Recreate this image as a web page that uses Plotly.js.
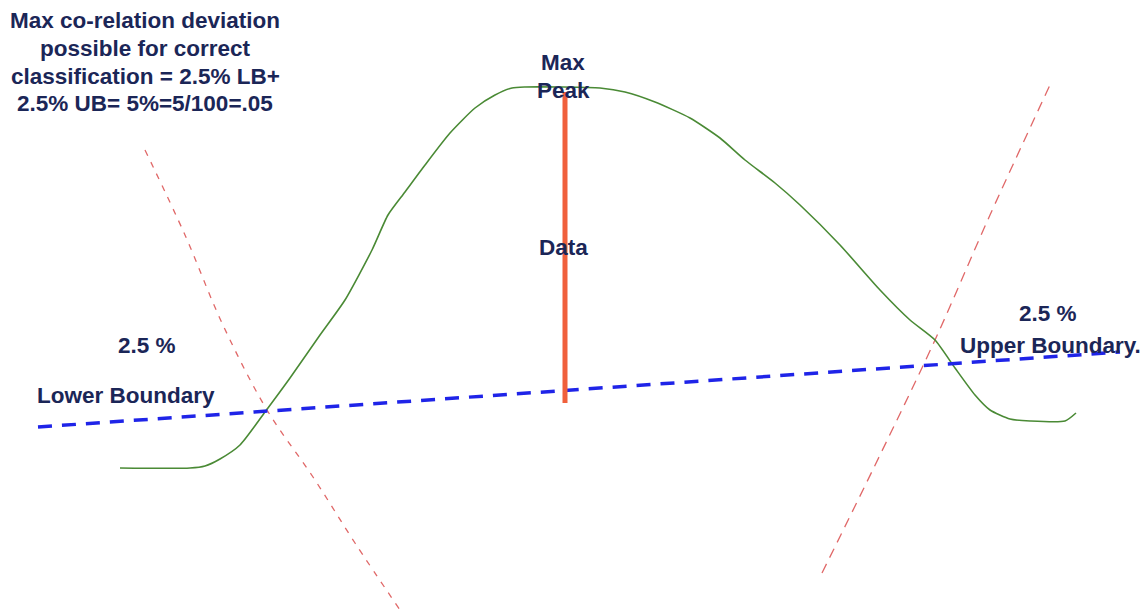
<!DOCTYPE html>
<html>
<head>
<meta charset="utf-8">
<script src="https://cdn.plot.ly/plotly-3.0.1.min.js"></script>
<style>
  html, body { margin: 0; padding: 0; background: #ffffff; }
  #chart { width: 1146px; height: 612px; }
</style>
</head>
<body>
<div id="chart"></div>
<script>
// Distribution curve (drawing units, y grows downward)
const curveX = [120, 190, 205, 220, 240, 265, 290, 320, 345, 372, 388, 405, 425, 450, 475, 495, 512, 525, 560, 600, 625, 655, 690, 720, 745, 775, 800, 840, 880, 910, 935, 955, 975, 990, 1010, 1030, 1065, 1076];
const curveY = [468, 468, 466, 459, 445, 412, 378, 335, 300, 250, 215, 192, 165, 133, 108, 95, 88, 87, 87, 88, 92, 102, 118, 138, 160, 183, 205, 245, 290, 320, 340, 368, 395, 410, 419, 421, 421, 413];

// Boundary line linking lower and upper cut points
const boundaryX = [38, 1120];
const boundaryY = [427, 352];

// Left cut line (slightly curved)
const leftCutX = [145, 185, 222, 267, 313, 355, 400];
const leftCutY = [150, 235, 323, 410, 477, 543, 610];

// Right cut line
const rightCutX = [822, 880, 935, 990, 1050];
const rightCutY = [573, 455, 340, 215, 85];

// Peak marker
const peakX = [565, 565];
const peakY = [92, 403];

// Labels
const noteLines = ["Max co-relation deviation", "possible for correct", "classification = 2.5% LB+", "2.5% UB= 5%=5/100=.05"];
const noteLineY = [20, 48, 76, 103];
const peakLabel = ["Max", "Peak"];
const peakLabelY = [62, 90];
const dataLabel = "Data";
const lowerPct = "2.5 %";
const lowerLabel = "Lower Boundary";
const upperPct = "2.5 %";
const upperLabel = "Upper Boundary.";

const navy = "#1b2657";
const font = { family: "Liberation Sans, Arial, sans-serif", size: 22.5, color: navy };

const traces = [
  { x: leftCutX, y: leftCutY, mode: "lines", line: { color: "#e06868", width: 1.3, dash: "6px,7px", shape: "spline" }, hoverinfo: "skip" },
  { x: rightCutX, y: rightCutY, mode: "lines", line: { color: "#e06868", width: 1.3, dash: "10px,7px", shape: "spline" }, hoverinfo: "skip" },
  { x: curveX, y: curveY, mode: "lines", line: { color: "#4a8a35", width: 1.6, shape: "spline", smoothing: 0.6 }, hoverinfo: "skip" },
  { x: boundaryX, y: boundaryY, mode: "lines", line: { color: "#1f24e8", width: 3.5, dash: "14px,10px" }, hoverinfo: "skip" },
  { x: peakX, y: peakY, mode: "lines", line: { color: "#f0603c", width: 5 }, hoverinfo: "skip" }
];

function label(text, x, y) {
  return { text: "<b>" + text + "</b>", x: x, y: y, xref: "x", yref: "y", showarrow: false, font: font, align: "center", xanchor: "center", yanchor: "middle" };
}

const annotations = [];
noteLines.forEach((t, i) => annotations.push(label(t, 145, noteLineY[i])));
peakLabel.forEach((t, i) => annotations.push(label(t, 563, peakLabelY[i])));
annotations.push(label(dataLabel, 563, 247));
annotations.push(label(lowerPct, 147, 345));
annotations.push(label(lowerLabel, 126, 395));
annotations.push(label(upperPct, 1048, 313));
annotations.push(label(upperLabel, 1050, 345));

const layout = {
  width: 1146, height: 612,
  margin: { l: 0, r: 0, t: 0, b: 0 },
  paper_bgcolor: "#ffffff", plot_bgcolor: "#ffffff",
  showlegend: false,
  xaxis: { range: [0, 1146], visible: false, fixedrange: true },
  yaxis: { range: [612, 0], visible: false, fixedrange: true },
  annotations: annotations
};

Plotly.newPlot("chart", traces, layout, { displayModeBar: false, staticPlot: true });
</script>
</body>
</html>
